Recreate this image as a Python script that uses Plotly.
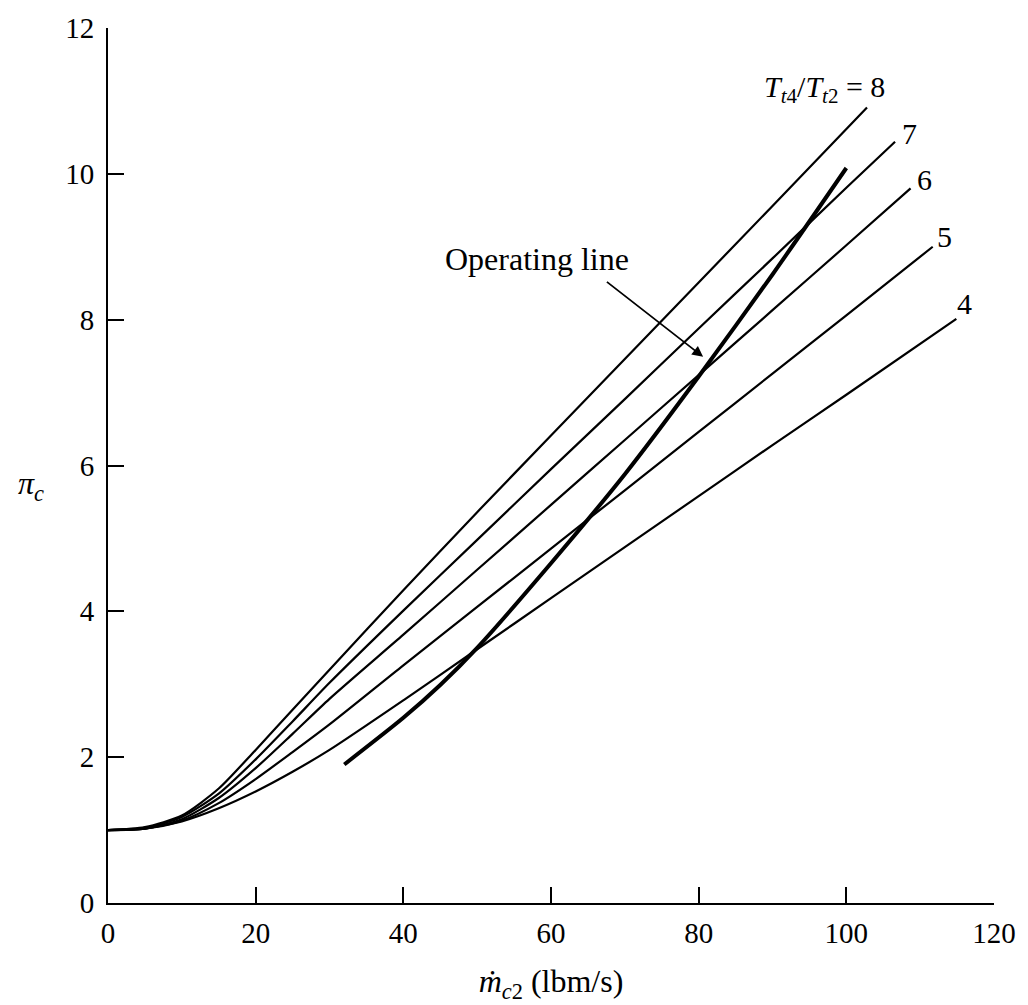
import plotly.graph_objects as go

# ---- data ----
ratio_labels = ["8", "7", "6", "5", "4"]

x_t8 = [0, 5, 10, 15, 20, 25, 30, 40, 50, 60, 70, 80, 90, 102.8]
y_t8 = [1.0, 1.04, 1.2, 1.57, 2.1, 2.65, 3.2, 4.29, 5.36, 6.41, 7.46, 8.51, 9.56, 10.91]

x_t7 = [0, 5, 10, 15, 20, 25, 30, 40, 50, 60, 70, 80, 90, 100, 106.6]
y_t7 = [1.0, 1.03, 1.18, 1.5, 1.97, 2.49, 3.02, 4.01, 4.98, 5.95, 6.91, 7.88, 8.84, 9.81, 10.44]

x_t6 = [0, 5, 10, 15, 20, 25, 30, 40, 50, 60, 70, 80, 90, 100, 108.7]
y_t6 = [1.0, 1.02, 1.15, 1.44, 1.85, 2.32, 2.80, 3.68, 4.57, 5.46, 6.35, 7.24, 8.13, 9.02, 9.80]

x_t5 = [0, 5, 10, 15, 20, 25, 30, 40, 50, 60, 70, 80, 90, 100, 111.7]
y_t5 = [1.0, 1.02, 1.13, 1.37, 1.7, 2.07, 2.45, 3.26, 4.06, 4.86, 5.66, 6.46, 7.26, 8.06, 9.0]

x_t4 = [0, 5, 10, 15, 20, 25, 30, 40, 50, 60, 70, 80, 90, 100, 114.9]
y_t4 = [1.0, 1.02, 1.12, 1.3, 1.53, 1.8, 2.1, 2.78, 3.48, 4.18, 4.88, 5.58, 6.28, 6.97, 8.01]

x_op = [32, 40, 45, 50, 60, 70, 80, 90, 100]
y_op = [1.90, 2.54, 2.99, 3.50, 4.66, 5.88, 7.22, 8.62, 10.08]

x_ticks = [0, 20, 40, 60, 80, 100, 120]
y_ticks = [0, 2, 4, 6, 8, 10, 12]

FONT = "Liberation Serif"
FS = 29
FS_TXT = 32

fig = go.Figure()
for xs, ys in [(x_t8, y_t8), (x_t7, y_t7), (x_t6, y_t6), (x_t5, y_t5), (x_t4, y_t4)]:
    fig.add_trace(go.Scatter(x=xs, y=ys, mode="lines",
                             line=dict(color="black", width=2.2, shape="spline", smoothing=0.7),
                             showlegend=False, hoverinfo="skip"))
fig.add_trace(go.Scatter(x=x_op, y=y_op, mode="lines",
                         line=dict(color="black", width=4, shape="spline", smoothing=0.7),
                         showlegend=False, hoverinfo="skip"))

ann = []
# curve labels
ann.append(dict(x=97.0, y=11.17, xref="x", yref="y", showarrow=False,
                text="<i>T</i><sub><i>t</i>4</sub>/<i>T</i><sub><i>t</i>2</sub> = " + ratio_labels[0],
                font=dict(family=FONT, size=30, color="black")))
for lab, (lx, ly) in zip(ratio_labels[1:], [(108.6, 10.56), (110.6, 9.92), (113.3, 9.14), (116.0, 8.22)]):
    ann.append(dict(x=lx, y=ly, xref="x", yref="y", showarrow=False, text=lab,
                    font=dict(family=FONT, size=30, color="black")))
# operating line label + arrow
ann.append(dict(x=58.1, y=8.83, xref="x", yref="y", showarrow=False, text="Operating line",
                font=dict(family=FONT, size=FS_TXT, color="black")))
ann.append(dict(x=80.6, y=7.49, xref="x", yref="y", ax=67.3, ay=8.54, axref="x", ayref="y",
                text=" ", showarrow=True, arrowhead=2, arrowsize=1.2, arrowwidth=1.8,
                arrowcolor="black", font=dict(size=2)))
# y axis title (horizontal)
ann.append(dict(x=-0.104, y=5.72, xref="paper", yref="y", showarrow=False,
                text="<i>π</i><sub><i>c</i></sub>",
                font=dict(family=FONT, size=FS_TXT, color="black")))

fig.update_layout(
    width=1028, height=1005,
    margin=dict(l=108, r=28, t=22, b=102),
    paper_bgcolor="white", plot_bgcolor="white",
    font=dict(family=FONT, size=FS, color="black"),
    annotations=ann,
    xaxis=dict(range=[0, 120], tickvals=x_ticks, ticks="inside", ticklen=16, tickwidth=2,
               tickcolor="black", showline=True, linecolor="black", linewidth=2,
               showgrid=False, zeroline=False, ticklabelstandoff=3,
               title=dict(text="<i>ṁ</i><sub><i>c</i>2</sub> (lbm/s)", standoff=22,
                          font=dict(family=FONT, size=FS_TXT))),
    yaxis=dict(range=[0, 12], tickvals=y_ticks, ticks="inside", ticklen=16, tickwidth=2,
               tickcolor="black", showline=True, linecolor="black", linewidth=2,
               showgrid=False, zeroline=False, ticklabelstandoff=6),
)

fig.write_html("out.html")
